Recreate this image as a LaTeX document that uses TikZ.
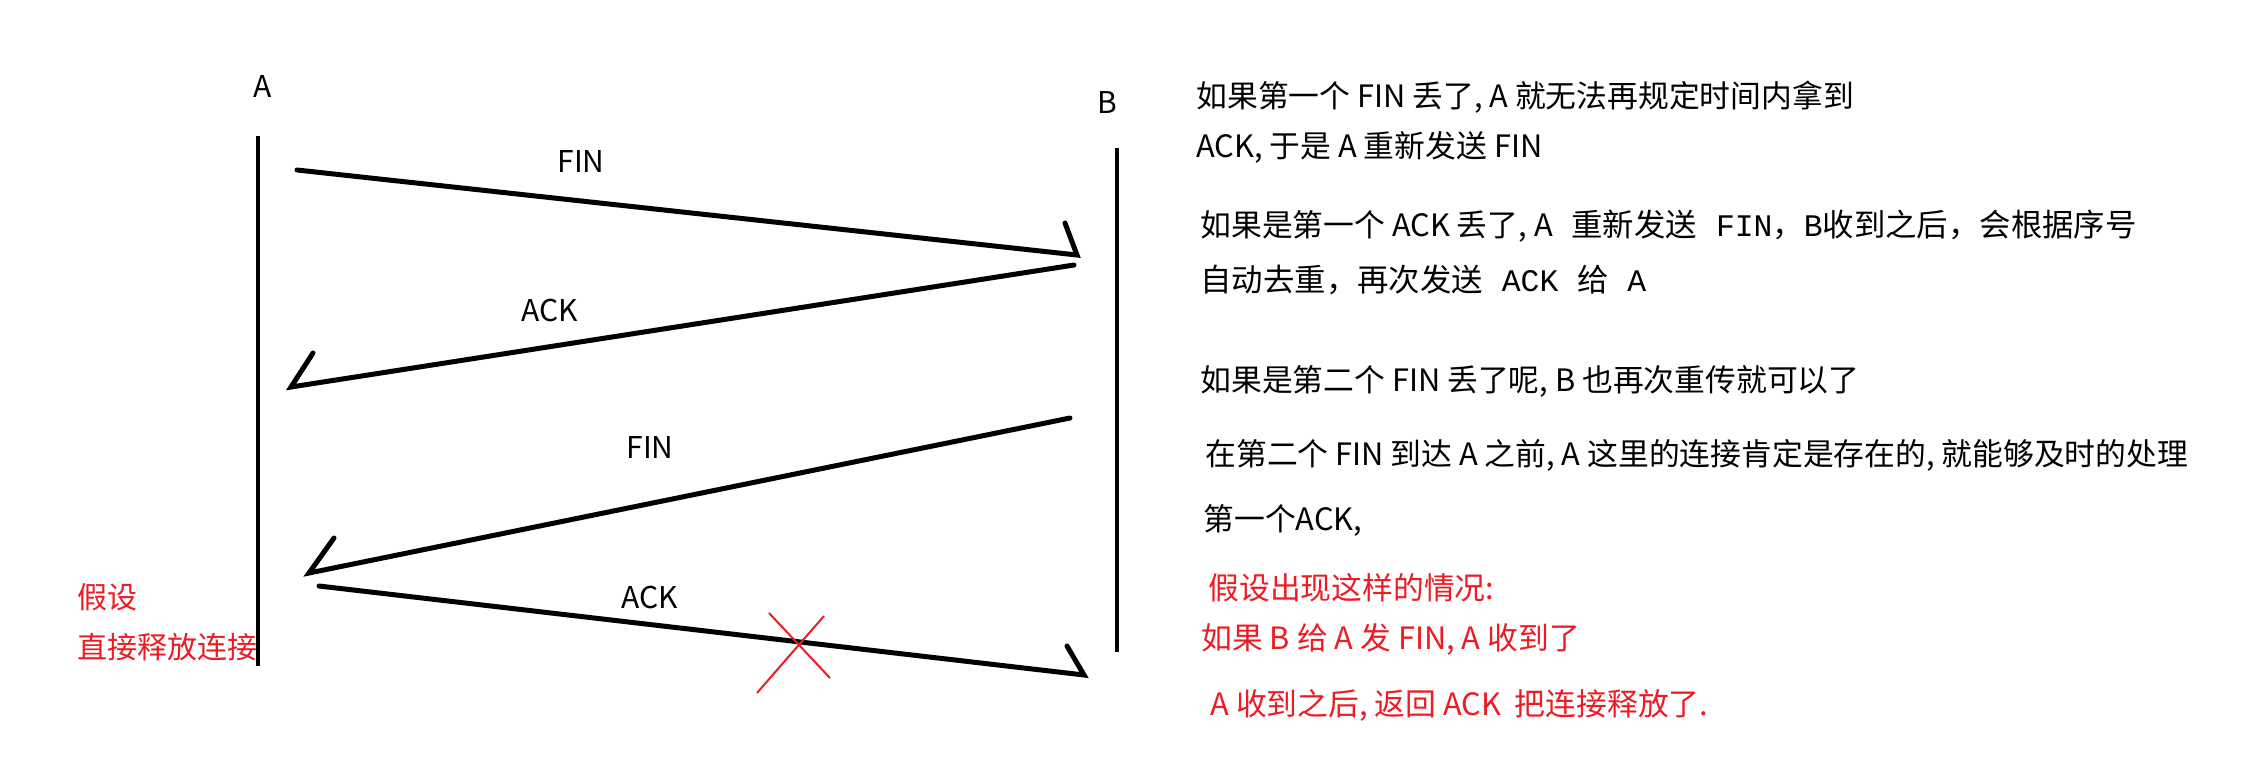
\documentclass[tikz,border=0pt]{standalone}
\usepackage{fontspec}
\setmainfont{Noto Sans CJK SC}
\newfontfamily\monoL{Liberation Mono}
\definecolor{pred}{RGB}{237,28,36}
\begin{document}
\begin{tikzpicture}[x=0.5pt,y=-0.5pt,
  life/.style={line width=2pt},
  msg/.style={line width=2.5pt, line join=miter, line cap=round},
  lbl/.style={font=\fontsize{15pt}{18pt}\selectfont, inner sep=0},
  note/.style={anchor=west, inner sep=0, font=\fontsize{15.4pt}{18pt}\selectfont},
  snote/.style={anchor=west, inner sep=0, font=\fontsize{15.7pt}{19pt}\selectfont},
  rnote/.style={note, text=pred},
  cross/.style={draw=pred, line width=1pt}]
\useasboundingbox (0,0) rectangle (2251,767);
\fill[white] (0,0) rectangle (2251,767);
% lifelines
\node[lbl] (A) at (263,86) {A};
\node[lbl] (B) at (1107,102) {B};
\coordinate (Atop) at (258,136); \coordinate (Abot) at (258,666);
\coordinate (Btop) at (1117,148); \coordinate (Bbot) at (1117,652);
\draw[life] (Atop) -- (Abot);
\draw[life] (Btop) -- (Bbot);
% message 1: FIN
\coordinate (f1s) at (297,170); \coordinate (f1t) at (1077,255); \coordinate (f1b) at (1065,223);
\draw[msg] (f1s) -- (f1t) -- (f1b);
\node[lbl] (fin1) at (581,161) {FIN};
% message 2: ACK
\coordinate (a1s) at (1074,265); \coordinate (a1t) at (291,387); \coordinate (a1b) at (313,353);
\draw[msg] (a1s) -- (a1t) -- (a1b);
\node[lbl] (ack1) at (550,310) {ACK};
% message 3: FIN
\coordinate (f2s) at (1070,418); \coordinate (f2t) at (309,573); \coordinate (f2b) at (334,538);
\draw[msg] (f2s) -- (f2t) -- (f2b);
\node[lbl] (fin2) at (650,447) {FIN};
% message 4: ACK (lost)
\coordinate (a2s) at (319,586); \coordinate (a2t) at (1084,675); \coordinate (a2b) at (1067,646);
\draw[msg] (a2s) -- (a2t) -- (a2b);
\node[lbl] (ack2) at (650,597) {ACK};
% red cross
\coordinate (x1) at (769,613); \coordinate (x2) at (830,678);
\coordinate (x3) at (824,616); \coordinate (x4) at (757,693);
\draw[cross] (x1) -- (x2);
\draw[cross] (x3) -- (x4);
% left red note
\node[rnote, font=\fontsize{15pt}{18pt}\selectfont] (l1) at (77,597) {假设};
\node[rnote, font=\fontsize{15pt}{18pt}\selectfont] (l2) at (77,647) {直接释放连接};
% right notes
\node[note] (n1) at (1196,97) {如果第一个 FIN 丢了, A 就无法再规定时间内拿到};
\node[note] (n2) at (1196,147) {ACK, 于是 A 重新发送 FIN};
\node[snote] (n3) at (1200,226) {{\fontsize{15.4pt}{18pt}\selectfont 如果是第一个 ACK 丢了, A}{\monoL\ }重新发送{\monoL\ FIN}，{\monoL B}收到之后，会根据序号};
\node[snote] (n4) at (1200,280) {自动去重，再次发送{\monoL\ ACK }给{\monoL\ A}};
\node[note] (n5) at (1200,381) {如果是第二个 FIN 丢了呢, B 也再次重传就可以了};
\node[note] (n6) at (1205,455) {在第二个 FIN 到达 A 之前, A 这里的连接肯定是存在的, 就能够及时的处理};
\node[note] (n7) at (1203,520) {第一个ACK,};
\node[rnote] (n8) at (1208,588) {假设出现这样的情况:};
\node[rnote] (n9) at (1201,639) {如果 B 给 A 发 FIN, A 收到了};
\node[rnote] (n10) at (1210,705) {A 收到之后, 返回 ACK \ 把连接释放了.};
\end{tikzpicture}
\end{document}
